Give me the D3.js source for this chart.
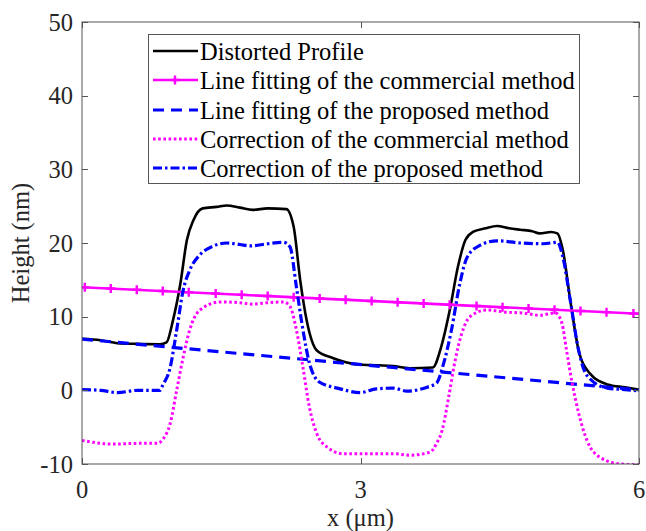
<!DOCTYPE html>
<html><head><meta charset="utf-8">
<script src="https://cdn.jsdelivr.net/npm/d3@7"></script>
<style>body{margin:0;background:#fff}svg{display:block}</style>
</head><body><svg id="c" width="646" height="531"></svg>
<script>
// ---- data ----
const xTicks = [0, 3, 6];
const yTicks = [-10, 0, 10, 20, 30, 40, 50];
const seriesNames = ["Distorted Profile","Line fitting of the commercial method","Line fitting of the proposed method","Correction of the commercial method","Correction of the proposed method"];

const distX = [0,0.2,0.38,0.6,0.84,0.91,0.98,1.06,1.13,1.2,1.3,1.45,1.56,1.7,1.84,2.0,2.2,2.28,2.35,2.42,2.53,2.7,2.99,3.2,3.35,3.53,3.78,3.86,3.96,4.05,4.13,4.21,4.35,4.47,4.6,4.72,4.85,4.93,5.05,5.12,5.18,5.26,5.35,5.47,5.66,5.85,6.0];
const distY = [7.0,6.8,6.4,6.3,6.25,6.5,9.5,14.5,20.4,23.1,24.7,24.9,25.1,24.8,24.5,24.7,24.6,22.2,15,9.5,5.4,4.4,3.5,3.4,3.3,3.0,3.1,5.5,10.8,16.8,20.4,21.5,22.0,22.3,22.0,21.8,21.6,21.3,21.5,21.3,19,12.2,5.4,2.3,0.8,0.4,0.1];

const fitComX = [0, 6];
const fitComY = [14.0, 10.4];
const fitComMarkX = [0.03,0.31,0.59,0.87,1.15,1.44,1.72,2.0,2.28,2.56,2.84,3.12,3.4,3.68,3.96,4.25,4.53,4.81,5.09,5.37,5.65,5.94];

const fitPropX = [0, 6];
const fitPropY = [6.95, 0.05];

const corComX = [0,0.34,0.6,0.81,0.88,0.95,1.02,1.09,1.16,1.27,1.49,1.7,1.84,2.0,2.17,2.24,2.31,2.38,2.45,2.53,2.64,2.81,3.0,3.35,3.53,3.75,3.82,3.88,3.95,4.02,4.09,4.18,4.36,4.58,4.75,4.93,5.1,5.17,5.22,5.28,5.35,5.44,5.58,5.8,6.0];
const corComY = [-6.8,-7.3,-7.2,-7.2,-6.5,-4.5,0,4.5,8.2,10.9,12,11.9,11.7,11.9,12,11.4,8.2,3.1,-2.3,-5.9,-7.7,-8.6,-8.6,-8.6,-8.8,-8.4,-7.2,-5.4,-0.9,4.1,7.7,10,10.9,10.6,10.5,10.2,10.5,9.1,5.4,1,-3.1,-6.8,-9.1,-10,-10.1];

const corPropX = [0,0.2,0.38,0.6,0.84,0.87,0.95,1.02,1.09,1.16,1.27,1.4,1.56,1.7,1.81,2.0,2.17,2.24,2.31,2.38,2.45,2.56,2.75,3.0,3.17,3.35,3.5,3.71,3.82,3.89,3.98,4.07,4.15,4.29,4.47,4.72,4.97,5.12,5.18,5.26,5.35,5.44,5.66,5.85,6.0];
const corPropY = [0.1,0.0,-0.3,0.0,0.0,0.7,3.1,8.2,13.6,16.3,18.4,19.5,20.0,19.8,19.6,19.9,20.1,19.5,14,8.2,3.7,1.1,0.3,-0.3,0.2,0.3,-0.1,0.4,1.0,3.4,8.2,14.5,18.1,19.7,20.3,20.0,19.9,20.1,18.1,12.2,5.4,2.0,0.3,0.1,-0.1];

// ---- layout ----
const L = 82, R = 639, T = 22, B = 464;
const FONT = "'Liberation Serif','Times New Roman',serif";
const FS = 24.5;
const axisCol = "#555", textCol = "#262626";
const svg = d3.select("#c");
const x = d3.scaleLinear().domain([0, 6]).range([L, R]);
const y = d3.scaleLinear().domain([-10, 50]).range([B, T]);

svg.append("defs").append("clipPath").attr("id","clip")
  .append("rect").attr("x",L).attr("y",T).attr("width",R-L).attr("height",B-T);

const styles = [
  {stroke:"#000", width:2.6, dash:null},
  {stroke:"#ff00ff", width:2.6, dash:null},
  {stroke:"#0000ff", width:3.2, dash:"11,7"},
  {stroke:"#ff00ff", width:3, dash:"2.6,2.6"},
  {stroke:"#0000ff", width:3.2, dash:"9,3,2.5,3"}
];
const seriesX = [distX, fitComX, fitPropX, corComX, corPropX];
const seriesY = [distY, fitComY, fitPropY, corComY, corPropY];

const g = svg.append("g").attr("clip-path","url(#clip)");
const line = d3.line().x(d=>x(d[0])).y(d=>y(d[1])).curve(d3.curveMonotoneX);
seriesX.forEach((xs,i)=>{
  const pts = xs.map((v,j)=>[v, seriesY[i][j]]);
  const p = g.append("path").datum(pts).attr("d", line)
    .attr("fill","none").attr("stroke",styles[i].stroke)
    .attr("stroke-width",styles[i].width).attr("stroke-linejoin","round");
  if (styles[i].dash) p.attr("stroke-dasharray", styles[i].dash);
  if (i===1) {
    const lin = d3.scaleLinear().domain(fitComX).range(fitComY);
    const ms = 4.5;
    fitComMarkX.forEach(mx=>{
      const cx = x(mx), cy = y(lin(mx));
      g.append("path").attr("d",`M${cx-ms},${cy}H${cx+ms}M${cx},${cy-ms}V${cy+ms}`)
        .attr("stroke","#ff00ff").attr("stroke-width",2.4);
    });
  }
});

// ---- axes ----
const ax = svg.append("g");
ax.append("rect").attr("x",L).attr("y",T).attr("width",R-L).attr("height",B-T)
  .attr("fill","none").attr("stroke",axisCol).attr("stroke-width",1);
const tl = 6;
yTicks.forEach(t=>{
  const yy = Math.round(y(t))+0.5;
  ax.append("line").attr("x1",L).attr("x2",L+tl).attr("y1",yy).attr("y2",yy).attr("stroke",axisCol);
  ax.append("line").attr("x1",R-tl).attr("x2",R).attr("y1",yy).attr("y2",yy).attr("stroke",axisCol);
  ax.append("text").attr("x",L-9).attr("y",y(t)).attr("dy","0.35em").attr("text-anchor","end")
    .attr("font-family",FONT).attr("font-size",FS).attr("fill",textCol).text(t);
});
xTicks.forEach(t=>{
  const xx = Math.round(x(t))+0.5;
  ax.append("line").attr("x1",xx).attr("x2",xx).attr("y1",B).attr("y2",B-tl).attr("stroke",axisCol);
  ax.append("line").attr("x1",xx).attr("x2",xx).attr("y1",T).attr("y2",T+tl).attr("stroke",axisCol);
  ax.append("text").attr("x",x(t)).attr("y",498).attr("text-anchor","middle")
    .attr("font-family",FONT).attr("font-size",FS).attr("fill",textCol).text(t);
});
ax.append("text").attr("x",(L+R)/2).attr("y",526).attr("text-anchor","middle")
  .attr("font-family",FONT).attr("font-size",FS).attr("fill",textCol).text("x (μm)");
ax.append("text").attr("transform",`translate(29,${(T+B)/2}) rotate(-90)`).attr("text-anchor","middle")
  .attr("font-family",FONT).attr("font-size",FS).attr("fill",textCol).text("Height (nm)");

// ---- legend ----
const lg = svg.append("g");
lg.append("rect").attr("x",148.5).attr("y",34.5).attr("width",431).attr("height",149)
  .attr("fill","#fff").attr("stroke",axisCol).attr("stroke-width",1);
const rowY = [51, 80, 110, 139, 168];
seriesNames.forEach((n,i)=>{
  const yy = rowY[i];
  const l = lg.append("line").attr("x1",153).attr("x2",198).attr("y1",yy).attr("y2",yy)
    .attr("stroke",styles[i].stroke).attr("stroke-width",styles[i].width);
  if (styles[i].dash) l.attr("stroke-dasharray", styles[i].dash);
  if (i===1) lg.append("path").attr("d",`M170.5,${yy}H179.5M175,${yy-4.5}V${yy+4.5}`)
    .attr("stroke","#ff00ff").attr("stroke-width",2.4);
  lg.append("text").attr("x",200).attr("y",yy).attr("dy","0.35em")
    .attr("font-family",FONT).attr("font-size",FS).attr("fill","#000").text(n);
});
</script></body></html>
